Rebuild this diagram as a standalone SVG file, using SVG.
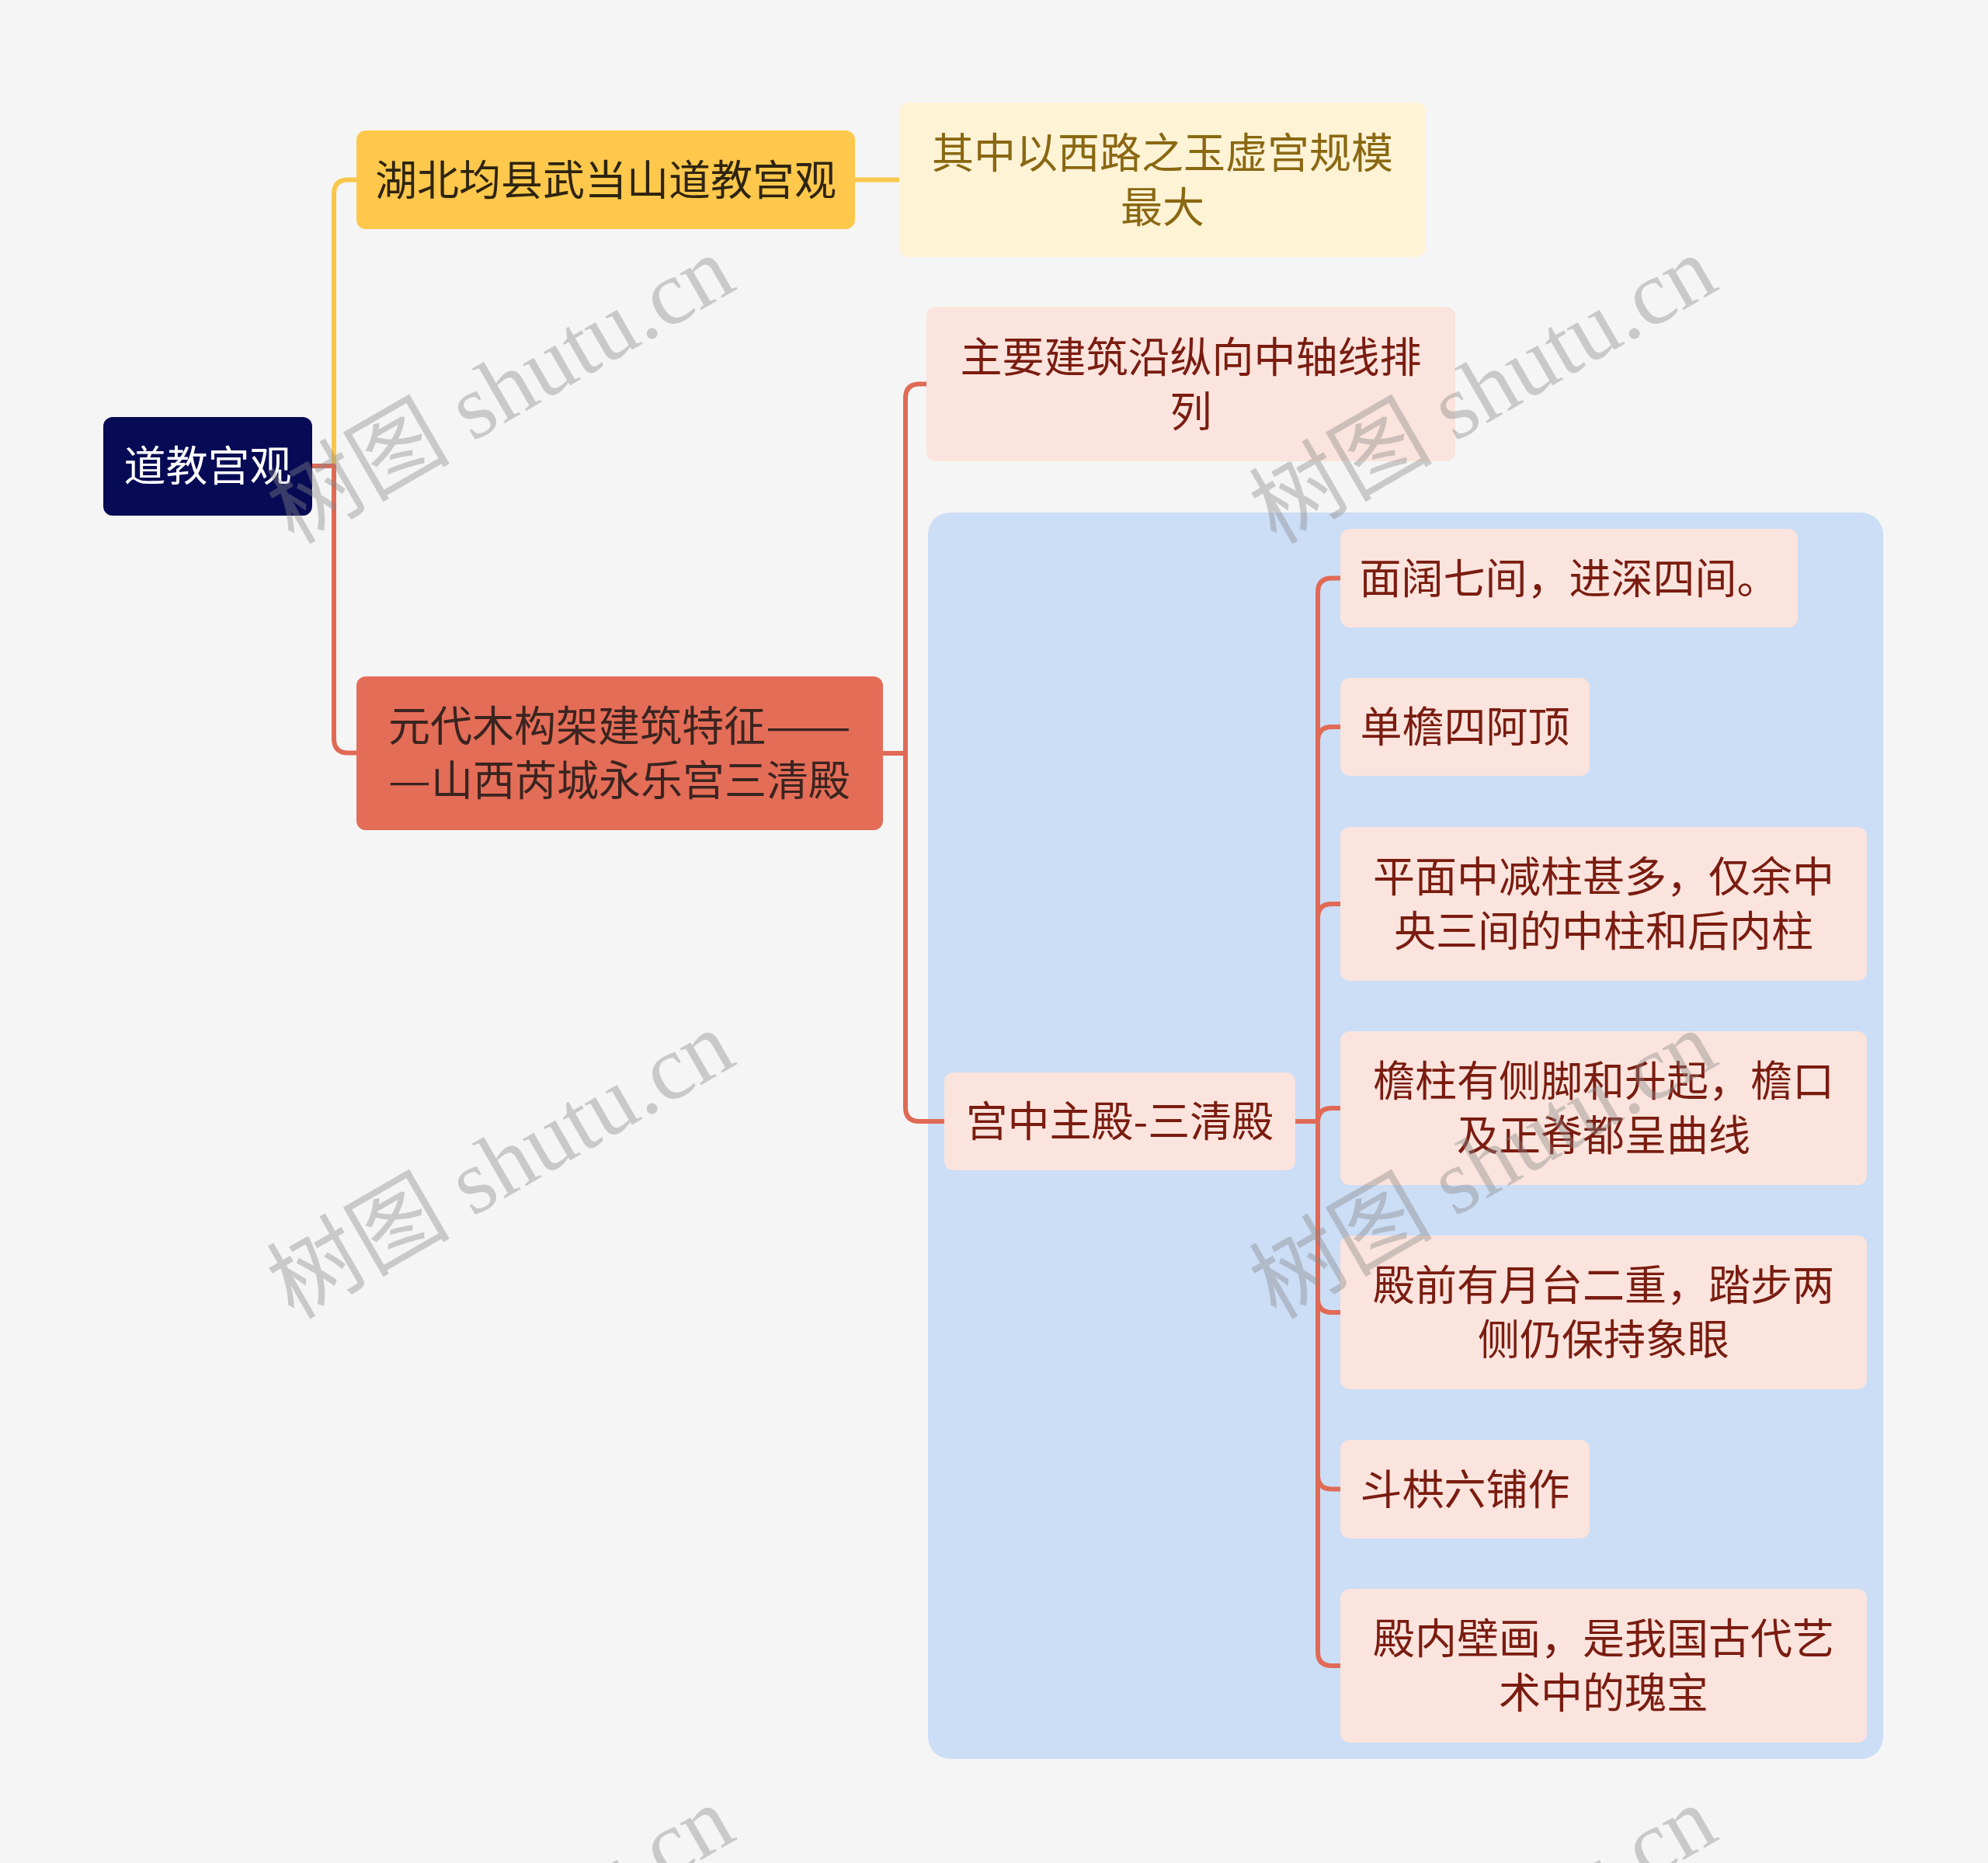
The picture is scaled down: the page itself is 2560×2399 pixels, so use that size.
<svg xmlns="http://www.w3.org/2000/svg" width="2560" height="2399" viewBox="0 0 2560 2399">
<style>
.t{font-family:"Noto Sans CJK SC","Noto Sans",sans-serif;font-size:54px;text-anchor:middle}
.s{text-anchor:start}
.pk{fill:#FBE4DD}
.pt{fill:#7A1C10}
.ln{fill:none;stroke-width:6;stroke-linecap:butt;stroke-linejoin:round}
.or{stroke:#E06A55}
.ye{stroke:#F9C64D}
.wm{font-family:"Liberation Serif","Noto Sans CJK SC",serif;font-size:118px;fill:#888;fill-opacity:0.4}
</style>
<rect width="2560" height="2399" fill="#F5F5F5"/>
<rect x="1195" y="660" width="1230" height="1605" rx="28" fill="#CCDDF6"/>
<g id="connectors">
<path class="ln ye" d="M402,600 H430 V250 Q430,231.5 448,231.5 H459"/>
<path class="ln ye" d="M1101,231.5 H1158"/>
<path class="ln or" d="M402,600 H430 V951 Q430,969.5 448,969.5 H459"/>
<path class="ln or" d="M1137,970 H1166 V513 Q1166,494.5 1184,494.5 H1193"/>
<path class="ln or" d="M1137,970 H1166 V1426 Q1166,1444 1184,1444 H1216"/>
<path class="ln or" d="M1668,1444 H1697"/>
<path class="ln or" d="M1697,1444 V763 Q1697,744.5 1715,744.5 H1726"/>
<path class="ln or" d="M1697,1444 V954 Q1697,936 1715,936 H1726"/>
<path class="ln or" d="M1697,1444 V1182 Q1697,1164 1715,1164 H1726"/>
<path class="ln or" d="M1697,1444 V1445 Q1697,1427 1715,1427 H1726"/>
<path class="ln or" d="M1697,1444 V1672 Q1697,1690 1715,1690 H1726"/>
<path class="ln or" d="M1697,1444 V1899.5 Q1697,1917.5 1715,1917.5 H1726"/>
<path class="ln or" d="M1697,1444 V2127 Q1697,2145 1715,2145 H1726"/>
</g>
<g id="root">
<rect x="133" y="537" width="269" height="127" rx="12" fill="#070B55"/>
<text class="t" x="267.5" y="620" fill="#FFFFFF">道教宫观</text>
</g>
<g id="n1">
<rect x="459" y="168" width="642" height="127" rx="12" fill="#FDC84B"/>
<text class="t" x="780" y="251.5" fill="#2E2410">湖北均县武当山道教宫观</text>
</g>
<g id="n1a">
<rect x="1158" y="132" width="678" height="199" rx="12" fill="#FFF3D6"/>
<text class="t" x="1497" y="217" fill="#8A6812">其中以西路之玉虚宫规模</text>
<text class="t" x="1497" y="287" fill="#8A6812">最大</text>
</g>
<g id="n2">
<rect x="459" y="871" width="678" height="198" rx="12" fill="#E46D57"/>
<text class="t s" x="500" y="955" fill="#3A2420">元代木构架建筑特征<tspan x="986" textLength="110" lengthAdjust="spacingAndGlyphs">——</tspan></text>
<text class="t s" x="500" y="1025" fill="#3A2420"><tspan textLength="55" lengthAdjust="spacingAndGlyphs">—</tspan><tspan x="555">山西芮城永乐宫三清殿</tspan></text>
</g>
<g id="n2a">
<rect class="pk" x="1193" y="395" width="681" height="199" rx="12"/>
<text class="t pt" x="1533.5" y="480">主要建筑沿纵向中轴线排</text>
<text class="t pt" x="1533.5" y="550">列</text>
</g>
<g id="n2b">
<rect class="pk" x="1216" y="1381" width="452" height="126" rx="12"/>
<text class="t pt" x="1442" y="1464">宫中主殿-三清殿</text>
</g>
<g id="c1">
<rect class="pk" x="1726" y="681" width="589" height="127" rx="12"/>
<text class="t pt" x="2020.5" y="764.5">面阔七间，进深四间。</text>
</g>
<g id="c2">
<rect class="pk" x="1726" y="873" width="321" height="126" rx="12"/>
<text class="t pt" x="1886.5" y="956">单檐四阿顶</text>
</g>
<g id="c3">
<rect class="pk" x="1726" y="1065" width="678" height="198" rx="12"/>
<text class="t pt" x="2065" y="1149">平面中减柱甚多，仅余中</text>
<text class="t pt" x="2065" y="1219">央三间的中柱和后内柱</text>
</g>
<g id="c4">
<rect class="pk" x="1726" y="1328" width="678" height="198" rx="12"/>
<text class="t pt" x="2065" y="1412">檐柱有侧脚和升起，檐口</text>
<text class="t pt" x="2065" y="1482">及正脊都呈曲线</text>
</g>
<g id="c5">
<rect class="pk" x="1726" y="1591" width="678" height="198" rx="12"/>
<text class="t pt" x="2065" y="1675">殿前有月台二重，踏步两</text>
<text class="t pt" x="2065" y="1745">侧仍保持象眼</text>
</g>
<g id="c6">
<rect class="pk" x="1726" y="1854" width="321" height="127" rx="12"/>
<text class="t pt" x="1886.5" y="1937.5">斗栱六铺作</text>
</g>
<g id="c7">
<rect class="pk" x="1726" y="2046" width="678" height="198" rx="12"/>
<text class="t pt" x="2065" y="2130">殿内壁画，是我国古代艺</text>
<text class="t pt" x="2065" y="2200">术中的瑰宝</text>
</g>
<g id="watermarks">
<text class="wm" transform="translate(378,702) rotate(-30)">树图 shutu.cn</text>
<text class="wm" transform="translate(1643,702) rotate(-30)">树图 shutu.cn</text>
<text class="wm" transform="translate(378,1700) rotate(-30)">树图 shutu.cn</text>
<text class="wm" transform="translate(1643,1700) rotate(-30)">树图 shutu.cn</text>
<text class="wm" transform="translate(378,2698) rotate(-30)">树图 shutu.cn</text>
<text class="wm" transform="translate(1643,2698) rotate(-30)">树图 shutu.cn</text>
</g>
</svg>
